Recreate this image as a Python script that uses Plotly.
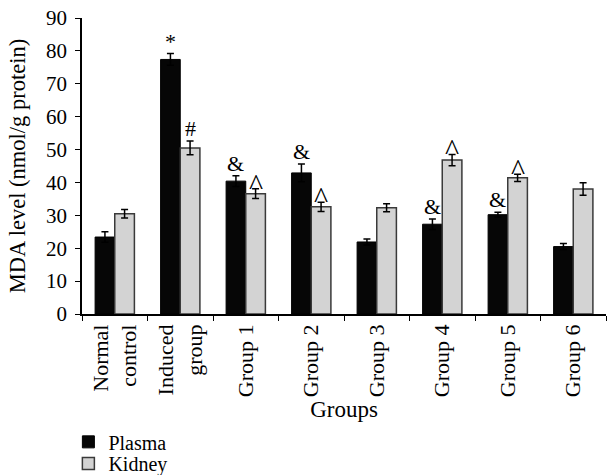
import plotly.graph_objects as go

categories = ["Normal<br>control", "Induced<br>group", "Group 1", "Group 2",
              "Group 3", "Group 4", "Group 5", "Group 6"]
plasma = [23.4, 77.4, 40.4, 42.9, 21.9, 27.3, 30.2, 20.5]
plasma_err = [1.6, 1.8, 1.6, 2.7, 0.9, 1.6, 0.7, 0.9]
kidney = [30.5, 50.5, 36.6, 32.6, 32.3, 46.8, 41.4, 38.0]
kidney_err = [1.3, 2.1, 1.5, 1.4, 1.2, 1.7, 1.1, 1.9]
plasma_marks = ["", "*", "&", "&", "", "&", "&", ""]
kidney_marks = ["", "#", "^", "^", "", "^", "^", ""]

FONT = "Liberation Serif, DejaVu Serif, serif"

fig = go.Figure()
fig.add_trace(go.Bar(
    name="Plasma", x=categories, y=plasma, legend="legend",
    marker=dict(color="#060606", line=dict(color="#000000", width=1)),
    error_y=dict(type="data", array=plasma_err, color="#000000", thickness=1.5, width=3.5),
))
fig.add_trace(go.Bar(
    name="Kidney", x=categories, y=kidney, legend="legend2",
    marker=dict(color="#d3d3d3", line=dict(color="#3a3a3a", width=1.5)),
    error_y=dict(type="data", array=kidney_err, color="#000000", thickness=1.5, width=3.5),
))

off = 0.15
for i, (v, e, m) in enumerate(zip(plasma, plasma_err, plasma_marks)):
    if m:
        fig.add_annotation(x=i - off, y=v + e, text=m, showarrow=False,
                           yanchor="bottom", yshift=-2,
                           font=dict(family=FONT, size=22, color="black"))
for i, (v, e, m) in enumerate(zip(kidney, kidney_err, kidney_marks)):
    if m:
        big = m == "^"
        fig.add_annotation(x=i + off, y=v + e, text=m, showarrow=False,
                           yanchor="bottom", yshift=-14 if big else -2,
                           font=dict(family=FONT, size=30 if big else 22, color="black"))

legend_style = dict(x=-0.026, xanchor="left", yanchor="middle",
                    orientation="v", font=dict(size=20), itemwidth=30,
                    bgcolor="rgba(0,0,0,0)")

fig.update_layout(
    width=607, height=475,
    margin=dict(l=82, r=1, t=18, b=161, autoexpand=False),
    plot_bgcolor="white", paper_bgcolor="white",
    font=dict(family=FONT, size=21, color="black"),
    barmode="group", bargap=0.4, bargroupgap=0,
    showlegend=True,
    legend=dict(y=-0.432, **legend_style),
    legend2=dict(y=-0.505, **legend_style),
)
fig.update_xaxes(
    showline=True, linecolor="black", linewidth=1.5, automargin=False,
    ticks="outside", tickson="boundaries", ticklen=5, tickcolor="black",
    tickangle=-90, tickfont=dict(size=22),
    title=dict(text="Groups", font=dict(size=23), standoff=4),
    showgrid=False,
)
fig.update_yaxes(
    range=[0, 90], dtick=10, showline=True, linecolor="black", linewidth=1.5,
    automargin=False, ticklabelstandoff=4,
    ticks="outside", ticklen=5, tickcolor="black", tickfont=dict(size=21),
    title=dict(text="MDA level (nmol/g protein)", font=dict(size=22.5), standoff=14),
    showgrid=False, zeroline=False,
)

fig.write_html("out.html", config={"displayModeBar": False},
               post_script="document.body.style.margin='0';document.body.style.padding='0';")
